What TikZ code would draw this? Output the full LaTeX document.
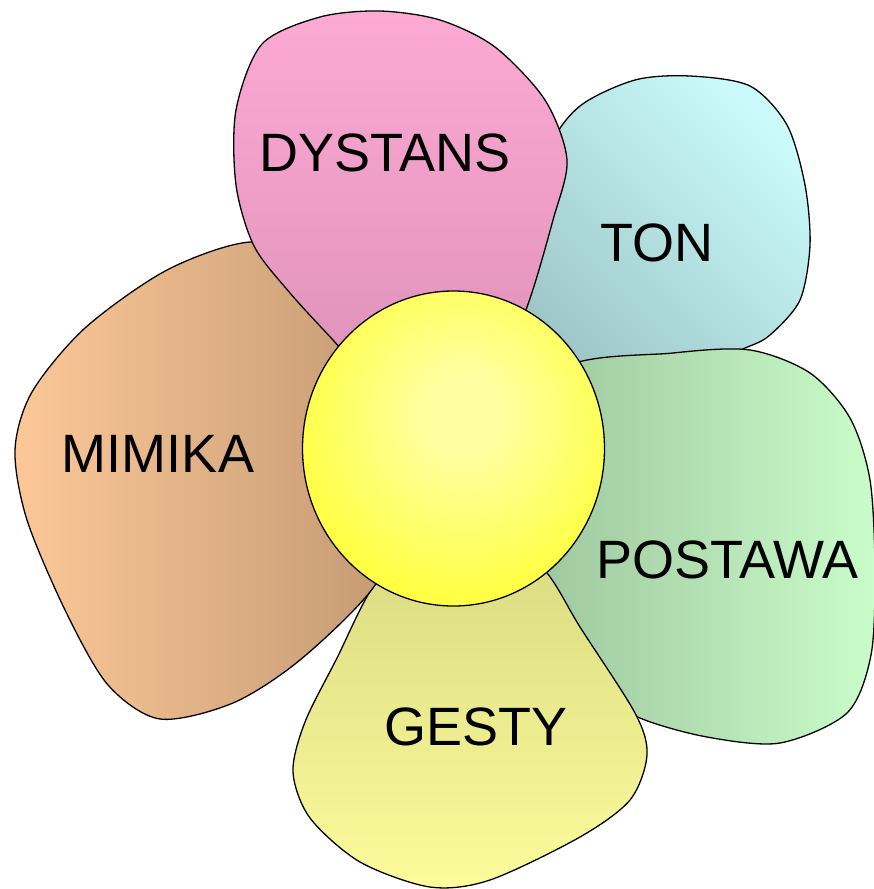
\documentclass[tikz,border=0pt]{standalone}
\usepackage{fontspec}
\setmainfont{Liberation Sans}
\usetikzlibrary{shapes.geometric}
\definecolor{pinktop}{RGB}{252,170,212}
\definecolor{pinkbot}{RGB}{222,144,184}
\definecolor{tealdark}{RGB}{156,196,198}
\definecolor{teallight}{RGB}{202,250,250}
\definecolor{greendark}{RGB}{156,196,156}
\definecolor{greenlight}{RGB}{202,252,202}
\definecolor{gestytop}{RGB}{216,216,128}
\definecolor{gestybot}{RGB}{252,252,156}
\definecolor{mimleft}{RGB}{252,200,152}
\definecolor{mimright}{RGB}{194,152,114}
\definecolor{sunin}{RGB}{255,255,162}
\definecolor{sunout}{RGB}{255,255,0}
\pgfdeclareradialshading{sunshade}{\pgfpoint{2bp}{6bp}}{color(0bp)=(sunin); color(6bp)=(sunin); color(44bp)=(sunout); color(100bp)=(sunout)}
\begin{document}
\begin{tikzpicture}[x=1pt,y=-1pt,
  petal/.style={draw=black, line width=1.3pt},
  petaltext/.style={font=\fontsize{54}{62}\selectfont, inner sep=0pt, anchor=center}]
\useasboundingbox (0,0) rectangle (874,889);
% TON (teal)
\path[petal, bottom color=tealdark, top color=teallight, shading angle=-45]
  plot[smooth cycle] coordinates {(548,150) (580,106) (635,80) (690,76) (750,86) (787,125) (805,185) (810,245) (800,300) (770,335) (745,348) (690,368) (600,382) (500,360) (515,250)};
% POSTAWA (green)
\path[petal, left color=greendark, right color=greenlight]
  plot[smooth cycle] coordinates {(560,370) (673,353) (750,350) (810,373) (850,418) (870,480) (875,570) (871,655) (847,713) (780,743) (707,737) (640,718) (600,690) (530,560) (520,470)};
% GESTY (yellow)
\path[petal, top color=gestytop, bottom color=gestybot]
  plot[smooth cycle] coordinates {(373,587) (337,658) (305,722) (293,772) (310,818) (360,862) (430,887) (490,880) (580,837) (630,800) (647,755) (635,713) (580,627) (547,573) (500,530) (420,540)};
% MIMIKA (brown)
\path[petal, left color=mimleft, right color=mimright]
  plot[smooth cycle] coordinates {(250,242) (167,270) (85,328) (32,392) (15,450) (27,520) (66,612) (108,685) (160,719) (233,703) (300,660) (373,588) (400,520) (400,380) (320,260)};
% DYSTANS (pink)
\path[petal, top color=pinktop, bottom color=pinkbot]
  plot[smooth cycle] coordinates {(333,340) (290,293) (254,246) (236,185) (236,110) (262,44) (320,17) (380,11) (440,20) (495,47) (545,100) (567,160) (553,220) (527,307) (490,390) (420,400) (370,380)};
% centre
\node[ellipse, draw=black, line width=1.3pt, shading=sunshade, inner sep=0pt,
      minimum width=302pt, minimum height=315pt] (sun) at (453.5,448.5) {};
% labels
\node[petaltext] (dystans) at (385,153) {DYSTANS};
\node[petaltext] (ton) at (657,243) {TON};
\node[petaltext] (mimika) at (158,454) {MIMIKA};
\node[petaltext] (postawa) at (727,560) {POSTAWA};
\node[petaltext] (gesty) at (476,727) {GESTY};
\end{tikzpicture}
\end{document}
